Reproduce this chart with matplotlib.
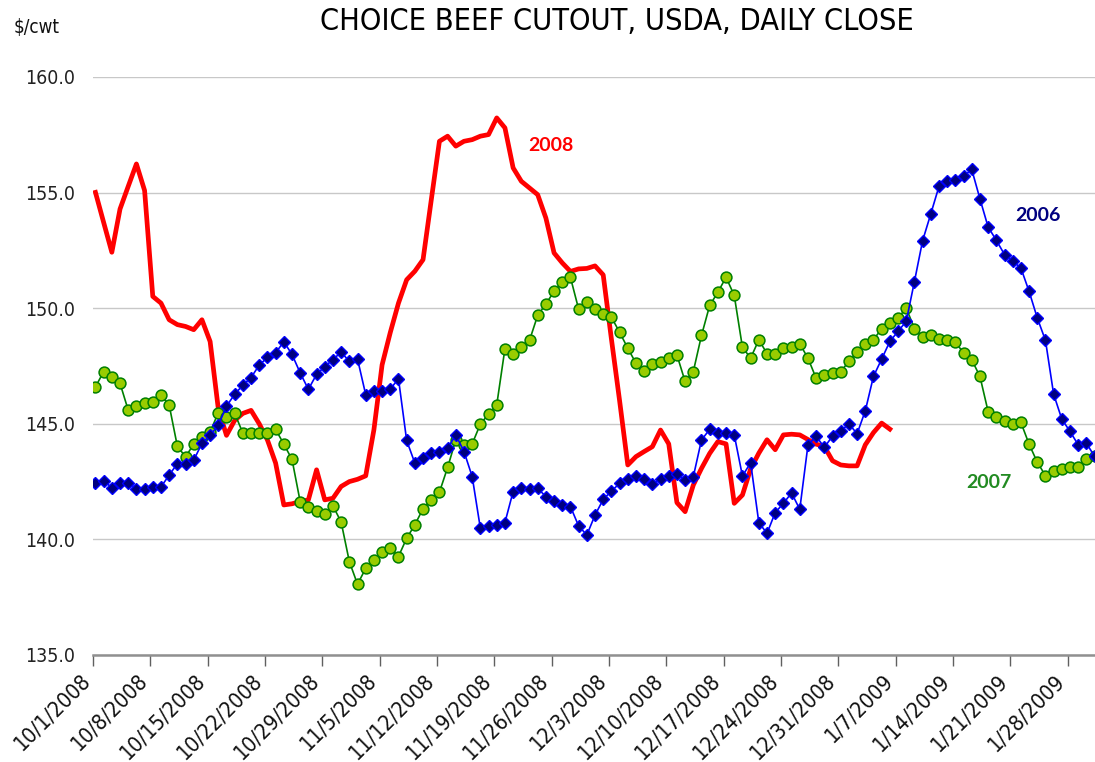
import numpy as np
import matplotlib
matplotlib.use("Agg")
import matplotlib.pyplot as plt
import matplotlib.transforms as mtransforms

# ======================================================
# DATA  (one value per day starting 10/1)
# ======================================================
y2006 = [142.45, 142.53, 142.24, 142.45, 142.45, 142.20, 142.16, 142.27, 142.27, 142.78,
         143.28, 143.28, 143.43, 144.15, 144.50, 144.94, 145.76, 146.28, 146.67, 147.00,
         147.54, 147.87, 148.07, 148.55, 148.00, 147.20, 146.49, 147.14, 147.47, 147.78,
         148.10, 147.70, 147.80, 146.26, 146.43, 146.43, 146.50, 146.95, 144.28, 143.30,
         143.51, 143.73, 143.80, 143.95, 144.52, 143.80, 142.72, 140.48, 140.56, 140.63,
         140.73, 142.07, 142.21, 142.19, 142.21, 141.85, 141.64, 141.49, 141.42, 140.58,
         140.19, 141.05, 141.73, 142.09, 142.42, 142.60, 142.74, 142.60, 142.38, 142.60,
         142.74, 142.81, 142.57, 142.71, 144.30, 144.76, 144.59, 144.62, 144.52, 142.74,
         143.32, 140.73, 140.26, 141.16, 141.56, 142.01, 141.30, 144.08, 144.46, 143.98,
         144.47, 144.68, 145.00, 144.57, 145.56, 147.05, 147.80, 148.56, 149.00, 149.43,
         151.15, 152.92, 154.08, 155.27, 155.52, 155.56, 155.71, 156.00, 154.73, 153.51,
         152.94, 152.32, 152.03, 151.74, 150.73, 149.58, 148.61, 146.28, 145.20, 144.67,
         144.09, 144.16, 143.59]

y2007 = [146.60, 147.25, 147.03, 146.75, 145.59, 145.76, 145.88, 145.95, 146.24, 145.81,
         144.03, 143.57, 144.12, 144.44, 144.65, 145.48, 145.30, 145.45, 144.60, 144.60,
         144.60, 144.60, 144.76, 144.12, 143.46, 141.63, 141.40, 141.25, 141.10, 141.45,
         140.75, 139.04, 138.06, 138.75, 139.11, 139.47, 139.62, 139.26, 140.05, 140.63,
         141.33, 141.71, 142.04, 143.11, 144.31, 144.09, 144.13, 144.99, 145.42, 145.82,
         148.25, 148.03, 148.32, 148.61, 149.69, 150.18, 150.73, 151.12, 151.33, 149.96,
         150.25, 149.97, 149.74, 149.61, 148.96, 148.27, 147.62, 147.30, 147.59, 147.69,
         147.84, 147.98, 146.83, 147.26, 148.82, 150.12, 150.69, 151.34, 150.55, 148.31,
         147.84, 148.63, 148.04, 148.02, 148.27, 148.31, 148.46, 147.84, 146.97, 147.11,
         147.19, 147.26, 147.70, 148.10, 148.46, 148.64, 149.11, 149.36, 149.57, 150.01,
         149.12, 148.75, 148.82, 148.68, 148.61, 148.54, 148.06, 147.77, 147.05, 145.53,
         145.29, 145.10, 145.00, 145.06, 144.12, 143.34, 142.76, 142.98, 143.05, 143.12,
         143.12, 143.48, 143.59]

y2008 = [155.01, 153.71, 152.42, 154.29, 155.27, 156.24, 155.09, 150.51, 150.22, 149.50,
         149.29, 149.21, 149.07, 149.50, 148.56, 145.65, 144.50, 145.15, 145.45, 145.58,
         145.00, 144.30, 143.30, 141.49, 141.54, 141.64, 141.71, 143.01, 141.71, 141.78,
         142.29, 142.50, 142.60, 142.75, 144.74, 147.55, 148.95, 150.22, 151.23, 151.60,
         152.10, 154.67, 157.22, 157.44, 157.01, 157.22, 157.29, 157.44, 157.51, 158.23,
         157.80, 156.07, 155.49, 155.20, 154.91, 153.90, 152.39, 151.96, 151.59, 151.70,
         151.72, 151.83, 151.44, 148.67, 146.00, 143.22, 143.58, 143.80, 144.01, 144.73,
         144.13, 141.59, 141.20, 142.35, 143.07, 143.72, 144.23, 144.13, 141.56, 141.92,
         143.05, 143.73, 144.31, 143.88, 144.52, 144.55, 144.52, 144.32, 144.12, 144.02,
         143.40, 143.22, 143.18, 143.18, 144.09, 144.62, 145.03, 144.77]

date_labels = ["10/1/2008", "10/8/2008", "10/15/2008", "10/22/2008", "10/29/2008",
               "11/5/2008", "11/12/2008", "11/19/2008", "11/26/2008", "12/3/2008",
               "12/10/2008", "12/17/2008", "12/24/2008", "12/31/2008", "1/7/2009",
               "1/14/2009", "1/21/2009", "1/28/2009"]
y_ticks = [135, 140, 145, 150, 155, 160]

# ======================================================
# FIGURE
# ======================================================
fig = plt.figure(figsize=(10.95, 7.62), dpi=100)
ax = fig.add_axes([93 / 1095, 107 / 762, 1002 / 1095, 578 / 762])

narrow = dict(family="DejaVu Sans", stretch="condensed")

x06 = np.arange(len(y2006))
x07 = np.arange(len(y2007))
x08 = np.arange(len(y2008))

ax.plot(x08, y2008, color="#FF0000", linewidth=3.4, zorder=3)
ax.plot(x07, y2007, color="#008000", linewidth=1.2, marker="o", markersize=7.8,
        markerfacecolor="#99CC00", markeredgecolor="#008000", markeredgewidth=1.1, zorder=4)
ax.plot(x06, y2006, color="#0000FF", linewidth=1.2, marker="D", markersize=6.2,
        markerfacecolor="#000080", markeredgecolor="#0000FF", markeredgewidth=1.0, zorder=5)

ax.set_xlim(-0.3, 122.05)
ax.set_ylim(135, 160)

# grid / axes
ax.set_yticks(y_ticks)
ax.set_yticklabels([f"{v:.1f}" for v in y_ticks], fontsize=14, color="#222222", **narrow)
ax.yaxis.grid(True, color="#C8C8C8", linewidth=1.0)
ax.set_axisbelow(True)
ax.tick_params(axis="y", length=0, pad=13)

tick_pos = np.arange(len(date_labels)) * 7 - 0.3
ax.set_xticks(tick_pos)
ax.set_xticklabels(date_labels, rotation=45, ha="right", va="top",
                   rotation_mode="anchor", fontsize=15.5, color="#111111", **narrow)
ax.tick_params(axis="x", length=8, width=1.0, color="#606060", direction="out", pad=3)
shift = mtransforms.ScaledTranslation(-0.13, 0, fig.dpi_scale_trans)
for lab in ax.get_xticklabels():
    lab.set_transform(lab.get_transform() + shift)

for s in ["top", "right", "left"]:
    ax.spines[s].set_visible(False)
ax.spines["bottom"].set_color("#909090")
ax.spines["bottom"].set_linewidth(1.8)

# labels
fig.text(617 / 1095, 1 - 22 / 762, "CHOICE BEEF CUTOUT, USDA, DAILY CLOSE",
         fontsize=22, ha="center", va="center", color="#000000", **narrow)
fig.text(14 / 1095, 1 - 28 / 762, "$/cwt", fontsize=13.5,
         ha="left", va="center", color="#111111", **narrow)

ax.text(52.8, 157.05, "2008", color="#FF0000", fontsize=14, fontweight="bold",
        family="Lato", va="center", ha="left")
ax.text(112.3, 154.0, "2006", color="#000080", fontsize=14, fontweight="bold",
        family="Lato", va="center", ha="left")
ax.text(106.3, 142.45, "2007", color="#228B22", fontsize=14, fontweight="bold",
        family="Lato", va="center", ha="left")

fig.savefig("out.png", dpi=100)
